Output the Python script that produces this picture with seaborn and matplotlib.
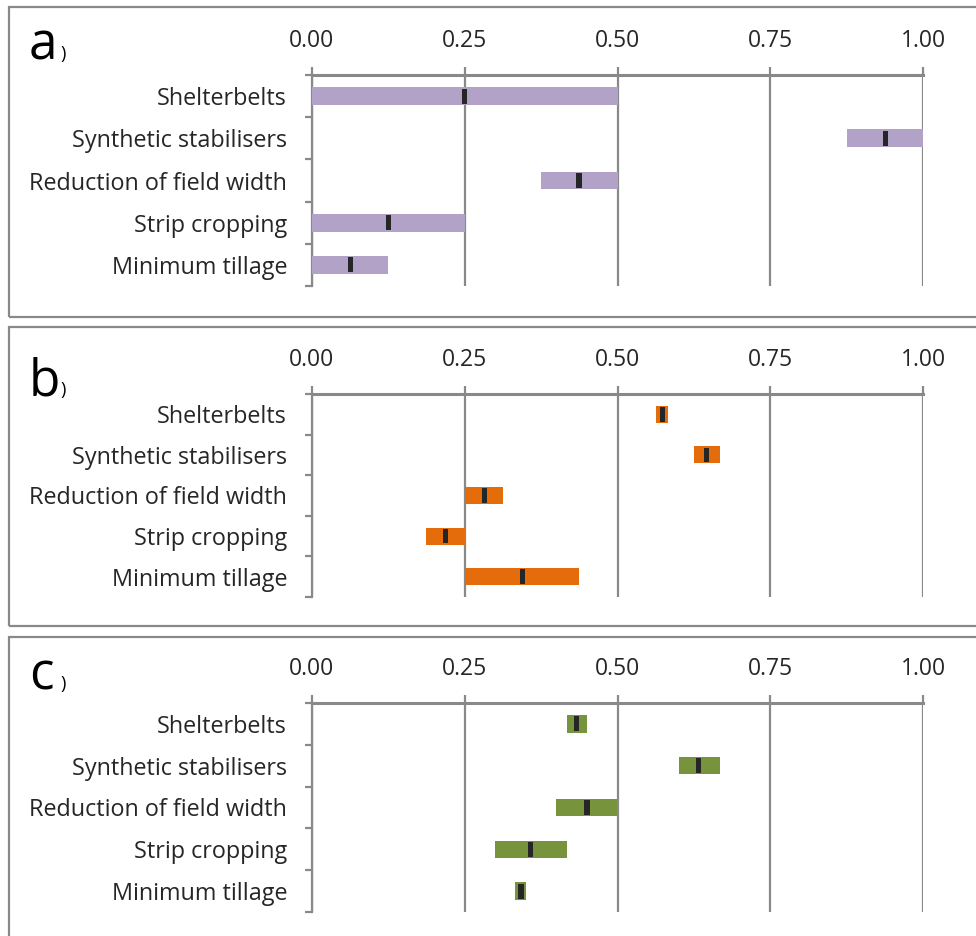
import numpy as np
import pandas as pd
import matplotlib
matplotlib.use("Agg")
import matplotlib.pyplot as plt
from matplotlib.patches import Rectangle
from matplotlib.ticker import FixedLocator
import seaborn as sns

sns.set_style("white")
plt.rcParams['font.family'] = ['Open Sans', 'DejaVu Sans']

categories = ["Shelterbelts", "Synthetic stabilisers", "Reduction of field width",
              "Strip cropping", "Minimum tillage"]
x_ticks = [0.00, 0.25, 0.50, 0.75, 1.00]
x_tick_labels = ["0.00", "0.25", "0.50", "0.75", "1.00"]
panel_labels = ["a", "b", "c"]

# range low / high and central marker for each panel
a_low = [0.000, 0.875, 0.375, 0.000, 0.000]
a_high = [0.500, 1.000, 0.500, 0.250, 0.125]
a_mid = [0.250, 0.938, 0.437, 0.125, 0.0625]

b_low = [0.563, 0.625, 0.250, 0.187, 0.250]
b_high = [0.583, 0.667, 0.312, 0.250, 0.437]
b_mid = [0.573, 0.646, 0.282, 0.218, 0.344]

c_low = [0.417, 0.600, 0.400, 0.300, 0.333]
c_high = [0.450, 0.667, 0.500, 0.417, 0.350]
c_mid = [0.433, 0.632, 0.450, 0.358, 0.342]

panels = [
    (a_low, a_high, a_mid, "#B3A2C7"),
    (b_low, b_high, b_mid, "#E46C0A"),
    (c_low, c_high, c_mid, "#77933C"),
]

W, H = 976, 936
fig = plt.figure(figsize=(W / 100, H / 100), dpi=100)

GREY = "#898989"
# axes boxes in pixel coords (left, top, right, bottom)
ax_px = [(312, 75, 923, 286), (312, 394, 923, 597), (312, 703, 923, 912)]
box_px = [(9, 7, 990, 317), (9, 327, 990, 626), (9, 637, 990, 950)]
label_px = [(29, 59), (29, 395), (29, 689)]

def fx(x):
    return x / W

def fy(y):
    return 1 - y / H

for i, ((low, high, mid, col), (l, t, r, b), (bl, bt, br, bb), (lx, ly)) in enumerate(
        zip(panels, ax_px, box_px, label_px)):
    # panel frame
    fig.add_artist(Rectangle((fx(bl), fy(bb)), fx(br - bl), (bb - bt) / H,
                             transform=fig.transFigure, fill=False,
                             edgecolor=GREY, linewidth=1.6, zorder=0))
    ax = fig.add_axes([fx(l), fy(b), fx(r - l), (b - t) / H])
    df = pd.DataFrame({"category": categories,
                       "width": np.array(high) - np.array(low),
                       "low": low, "mid": mid})
    sns.barplot(data=df, x="width", y="category", order=categories, orient="h",
                color=col, errorbar=None, width=0.42, left=df["low"].values,
                linewidth=0, saturation=1, ax=ax, zorder=3)
    mark_w = 0.0085
    sns.barplot(data=df, x=np.full(len(categories), mark_w), y="category",
                order=categories, orient="h", color="#262626", errorbar=None,
                width=0.36, left=df["mid"].values - mark_w / 2, linewidth=0,
                saturation=1, ax=ax, zorder=4)
    ax.set_xlim(0, 1)
    ax.set_ylim(4.5, -0.5)
    ax.set_xlabel("")
    ax.set_ylabel("")
    ax.xaxis.tick_top()
    ax.set_xticks(x_ticks)
    ax.set_xticklabels(x_tick_labels, fontsize=16.5)
    ax.tick_params(axis="x", length=6, width=1.6, color=GREY, pad=10, labelsize=16.5)
    ax.set_yticks(range(len(categories)))
    ax.set_yticklabels(categories, fontsize=16.8)
    ax.tick_params(axis="y", which="major", length=0, pad=18)
    ax.yaxis.set_minor_locator(FixedLocator(np.arange(-0.5, len(categories), 1.0)))
    ax.tick_params(axis="y", which="minor", length=5, width=1.6, color=GREY, left=True)
    ax.grid(axis="x", color=GREY, linewidth=1.6, zorder=1)
    ax.set_axisbelow(True)
    for s in ["right", "bottom"]:
        ax.spines[s].set_visible(False)
    ax.spines["top"].set_color(GREY)
    ax.spines["top"].set_linewidth(2.2)
    ax.spines["left"].set_color(GREY)
    ax.spines["left"].set_linewidth(1.6)
    ax.patch.set_alpha(0)
    # panel label
    fig.text(fx(lx), fy(ly), panel_labels[i], fontsize=37, ha="left",
             va="baseline", color="black")
    fig.text(fx(lx + 31), fy(ly), ")", fontsize=13, ha="left", va="baseline",
             color="black")

fig.savefig("out.png", dpi=100)
